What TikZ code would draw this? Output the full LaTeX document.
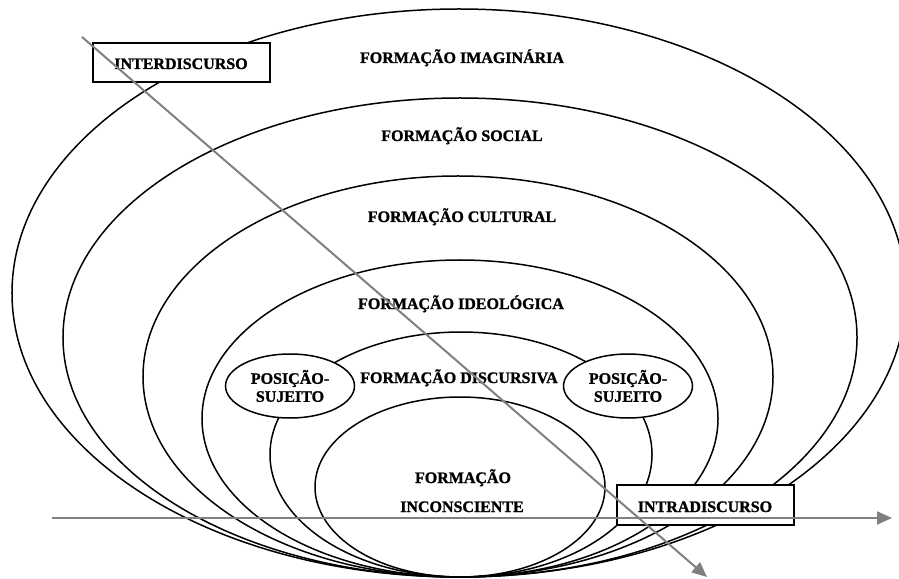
\documentclass[tikz,border=0pt]{standalone}
\usepackage{fontspec}
\setmainfont{Liberation Serif}[BoldFont={Liberation Serif Bold},BoldFeatures={FakeBold=1.2}]
\usetikzlibrary{shapes.geometric,arrows.meta}
\begin{document}
\begin{tikzpicture}[x=1bp,y=-1bp,
  ring/.style={ellipse,draw=black,line width=1.5bp,inner sep=0pt,outer sep=0pt},
  lbl/.style={anchor=base,inner sep=0pt,font=\fontsize{16bp}{18bp}\selectfont\bfseries},
  posbox/.style={ellipse,draw=black,fill=white,line width=1.5bp,inner sep=0pt,
    minimum width=129bp,minimum height=64bp,align=center,
    font=\fontsize{16bp}{18bp}\selectfont\bfseries},
  discbox/.style={rectangle,draw=black,fill=white,line width=1.5bp,inner sep=0pt,
    minimum width=177bp,minimum height=39bp},
  grayarrow/.style={draw={rgb,255:red,128;green,128;blue,128},line width=2bp,
    -{Triangle[length=15bp,width=13bp]}}]
\useasboundingbox (0,0) rectangle (899,579);
% nested formations
\node[ring,minimum width=894bp,minimum height=568bp] (imag) at (459,293) {};
\node[ring,minimum width=794bp,minimum height=479bp] (soc) at (460,337.5) {};
\node[ring,minimum width=630bp,minimum height=401bp] (cult) at (458,376.5) {};
\node[ring,minimum width=516bp,minimum height=317bp] (ideo) at (460,418.5) {};
\node[ring,minimum width=382bp,minimum height=245bp] (disc) at (461,454.5) {};
\node[ring,minimum width=290bp,minimum height=180bp] (incon) at (460,487) {};
% subject positions
\node[posbox] (posL) at (290,386) {\bfseries POSIÇÃO-\\\bfseries SUJEITO};
\node[posbox] (posR) at (628,386) {\bfseries POSIÇÃO-\\\bfseries SUJEITO};
% boxes
\node[discbox] (inter) at (181.5,62.5) {};
\node[lbl] (interT) at (181,69) {\textbf{INTERDISCURSO}};
\node[discbox,minimum height=40bp] (intra) at (705.5,505) {};
\node[lbl] (intraT) at (705,512) {\textbf{INTRADISCURSO}};
% labels
\node[lbl] (tImag) at (462,63) {\textbf{FORMAÇÃO IMAGINÁRIA}};
\node[lbl] (tSoc) at (462,141) {\textbf{FORMAÇÃO SOCIAL}};
\node[lbl] (tCult) at (462,222) {\textbf{FORMAÇÃO CULTURAL}};
\node[lbl] (tIdeo) at (461,309) {\textbf{FORMAÇÃO IDEOLÓGICA}};
\node[lbl] (tDisc) at (459,383) {\textbf{FORMAÇÃO DISCURSIVA}};
\node[lbl] (tInc1) at (463,483) {\textbf{FORMAÇÃO}};
\node[lbl] (tInc2) at (462,512) {\textbf{INCONSCIENTE}};
% axes
\coordinate (hstart) at (52,518);
\coordinate (hend) at (892,518);
\coordinate (dstart) at (82,37);
\coordinate (dend) at (707,577);
\draw[grayarrow] (hstart) -- (hend);
\draw[grayarrow] (dstart) -- (dend);
\end{tikzpicture}
\end{document}
